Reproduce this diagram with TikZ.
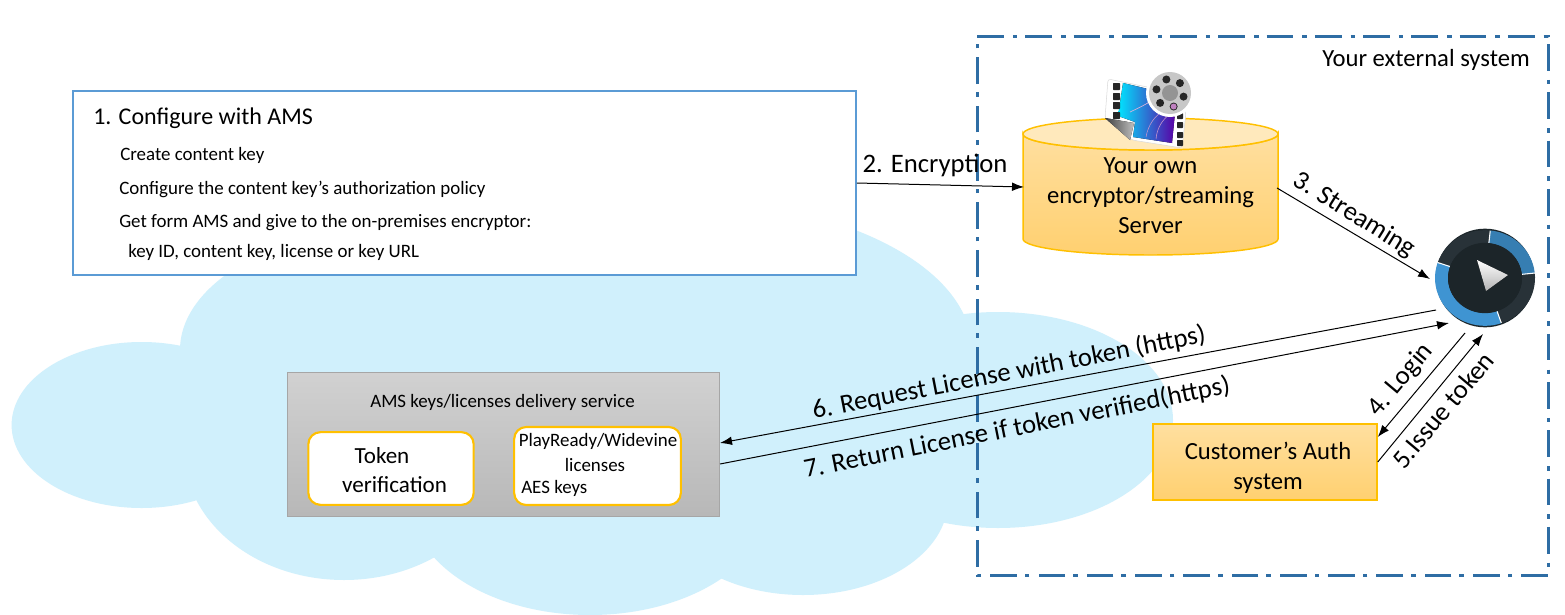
\documentclass[tikz,border=0pt]{standalone}
\usepackage{fontspec}
\setmainfont{Carlito}
\usetikzlibrary{arrows.meta,positioning}
\definecolor{cloudblue}{HTML}{D0F0FC}
\definecolor{frameblue}{HTML}{2E6DA4}
\definecolor{cfgblue}{HTML}{5B9BD5}
\definecolor{goldline}{HTML}{FFC000}
\definecolor{goldtop}{HTML}{FFDF9F}
\definecolor{goldbot}{HTML}{FFD070}
\definecolor{diskdark}{HTML}{1C2529}
\definecolor{ringdark}{HTML}{283238}
\definecolor{ringblue}{HTML}{3F94D2}
\tikzset{
	flow/.style={-{Latex[length=9pt,width=6.5pt]},line width=.75pt},
	plain/.style={inner sep=0pt,align=center},
	smalltext/.style={plain,font=\fontsize{14.2}{16}\selectfont},
	cfgtext/.style={smalltext,anchor=west},
	flowtext/.style={plain,font=\fontsize{18.5}{22.5}\selectfont},
	steptext/.style={plain,font=\fontsize{20}{24}\selectfont},
	innerbox/.style={draw=goldline,line width=1.6pt,fill=white,rounded corners=9pt,inner sep=0pt},
	cloudpart/.style={fill=cloudblue},
	filmhole/.style={fill=black!85,rounded corners=.5pt},
	ringpart/.style={line width=9.75pt},
	seam/.style={white,line width=.8pt},
}
\begin{document}
\begin{tikzpicture}[x=.75pt,y=-.75pt]
	\useasboundingbox (0,0) rectangle (1565,614);
	\fill[white] (0,0) rectangle (1565,614);
	\fill[cloudpart] (141.6,425) ellipse [x radius=130,y radius=83];
	\fill[cloudpart] (420,350) ellipse [x radius=240,y radius=128];
	\fill[cloudpart] (680,350) ellipse [x radius=292,y radius=150];
	\fill[cloudpart] (344,450) ellipse [x radius=160,y radius=130];
	\fill[cloudpart] (590,500) ellipse [x radius=180,y radius=115];
	\fill[cloudpart] (803,500) ellipse [x radius=145,y radius=95];
	\fill[cloudpart] (998,420) ellipse [x radius=175,y radius=108];
	\fill[cloudpart] (500,400) rectangle (900,500);

	\draw[frameblue,line width=2.25pt,dash pattern=on 20pt off 6.8pt on 3.4pt off 6pt] (977,36) -- (1548,36) -- (1548,575) -- (977,575) -- cycle;
	\node[flowtext,anchor=east] (external) at (1530,60) {Your external system};

	\node[draw=cfgblue,line width=1.5pt,fill=white,minimum width=587pt,minimum height=138pt,inner sep=0pt] (config) at (464.5,183) {};
	\node[plain,anchor=west,font=\fontsize{18}{20}\selectfont] (cfghead) at (93,118) {1. Configure with AMS};
	\node[cfgtext] (cfgkey) at (120,155) {Create content key};
	\node[cfgtext] (cfgpolicy) at (119,189) {Configure the content key’s authorization policy};
	\node[cfgtext] (cfgget) at (119,223) {Get form AMS and give to the on-premises encryptor:};
	\node[cfgtext] (cfgid) at (128,252) {key ID, content key, license or key URL};

	\path[draw=goldline,line width=1.1pt,top color=goldtop,bottom color=goldbot] (1023,134) -- (1023,239) arc[start angle=-180,end angle=-360,x radius=127.5,y radius=16] -- (1278,134) arc[start angle=0,end angle=-180,x radius=127.5,y radius=-16] -- cycle;
	\draw[goldline,line width=1.1pt,fill=goldtop!70!white] (1150.5,134) ellipse [x radius=127.5,y radius=16];
	\node[flowtext,minimum width=191pt,minimum height=103pt] (server) at (1150.5,196) {Your own\\encryptor/streaming\\Server};

	% film icon
	\fill[white,draw=black!15,rounded corners=2pt] (1108,79) -- (1152,88) -- (1186,112) -- (1182,148) -- (1132,140) -- (1105,118) -- cycle;
	\fill[left color=cyan!90!blue,right color=violet!70!blue] (1123,83) -- (1165,93) -- (1175,113) -- (1172,143) -- (1133,137) -- (1135,122) -- (1118,116) -- cycle;
	\draw[white!70!violet,line width=.5pt] (1130,112) .. controls (1145,105) and (1155,100) .. (1160,92);
	\draw[violet!40!white,line width=.4pt] (1146,137) .. controls (1148,125) and (1155,115) .. (1165,110);
	\draw[violet!40!white,line width=.4pt] (1156,139) .. controls (1157,128) and (1162,120) .. (1170,114);
	\foreach \y in {83,93,102,112} {\fill[filmhole] (1113,\y) rectangle (1120,\y+7);}
	\foreach \y in {113,122,132,140} {\fill[filmhole] (1177,\y) rectangle (1183,\y+6);}
	\fill[left color=black!75,right color=black!25] (1105,118) -- (1134,123) -- (1130,140) -- cycle;
	\fill[white] (1170,93) circle [radius=24];
	\fill[black!22] (1170,93) circle [radius=21];
	\foreach \a in {0,60,...,300} {\fill[black!85] (1170,93) ++(\a+15:14) circle [radius=4];}
	\fill[violet!50!white] (1170,93) ++(75:14) circle [radius=3];
	\fill[black!42] (1170,93) circle [radius=8];

	\node[circle,fill=diskdark,minimum size=74pt,inner sep=0pt] (player) at (1485,278) {};
	\begin{scope}[shift={(1485,278)},yscale=.95]
		\draw[ringdark,ringpart] (-84:43.5) arc[start angle=-84,end angle=-161,radius=43.5];
		\draw[ringdark,ringpart] (-289:43.5) arc[start angle=-289,end angle=-366,radius=43.5];
		\draw[ringblue,ringpart] (-161:43.5) arc[start angle=-161,end angle=-289,radius=43.5];
		\draw[ringblue!85!black,ringpart] (-6:43.5) arc[start angle=-6,end angle=-84,radius=43.5];
		\foreach \a in {-161,-84,-6,71} {\draw[seam] (\a:37) -- (\a:50);}
		\fill[diskdark] (0,0) circle [radius=37];
	\end{scope}
	\fill[top color=white,bottom color=black!30] (1477,260) -- (1508,275) -- (1486,291) -- cycle;

	\node[draw=black!35,line width=.8pt,top color=black!18,bottom color=black!28,minimum width=324pt,minimum height=108.5pt,inner sep=0pt] (delivery) at (503.5,444.5) {};
	\node[smalltext] (deliverytext) at (502.5,402) {AMS keys/licenses delivery service};
	\node[innerbox,minimum width=124pt,minimum height=54.5pt] (tokenbox) at (391,468.5) {};
	\node[plain,font=\fontsize{17.3}{22}\selectfont] (tokenname) at (382,456) {Token};
	\node[plain,font=\fontsize{17.3}{22}\selectfont] (tokenword) at (394.5,484.5) {verification};
	\node[innerbox,minimum width=125pt,minimum height=58.5pt] (licensebox) at (597.5,466) {};
	\node[smalltext] (playready) at (598,441) {PlayReady/Widevine};
	\node[smalltext] (licenses) at (595,465) {licenses};
	\node[cfgtext] (aeskeys) at (521,488) {AES keys};

	\node[draw=goldline,line width=1.1pt,top color=goldtop,bottom color=goldbot,minimum width=168pt,minimum height=57pt,inner sep=0pt] (auth) at (1265,462) {};
	\node[flowtext] (authtext) at (1268,468) {Customer’s Auth\\system};

	\coordinate (encin) at (1024,187);
	\coordinate (streamout) at (1277,188);
	\coordinate (streamin) at (1430,279);
	\coordinate (reqfrom) at (1436,310);
	\coordinate (reqto) at (720,443);
	\coordinate (retfrom) at (720,464);
	\coordinate (retto) at (1449,323);
	\coordinate (loginfrom) at (1465,333);
	\coordinate (issueto) at (1483,334);
	\draw[flow] (config.east) -- (encin);
	\draw[flow] (streamout) -- (streamin);
	\draw[flow] (reqfrom) -- (reqto);
	\draw[flow] (retfrom) -- (retto);
	\draw[flow] (loginfrom) -- (auth.east |- 0,437);
	\draw[flow] (auth.east |- 0,462) -- (issueto);

	\node[steptext] (enclabel) at (935,165) {2. Encryption};
	\node[steptext,rotate=-32] (streamlabel) at (1354,215) {3. Streaming};
	\node[steptext,rotate=11] (reqlabel) at (1009,373) {6. Request License with token (https)};
	\node[steptext,rotate=11.3] (retlabel) at (1017,428) {7. Return License if token verified(https)};
	\node[steptext,rotate=50] (loginlabel) at (1401,380) {4. Login};
	\node[steptext,rotate=50] (issuelabel) at (1443,410) {5.Issue token};
\end{tikzpicture}
\end{document}
